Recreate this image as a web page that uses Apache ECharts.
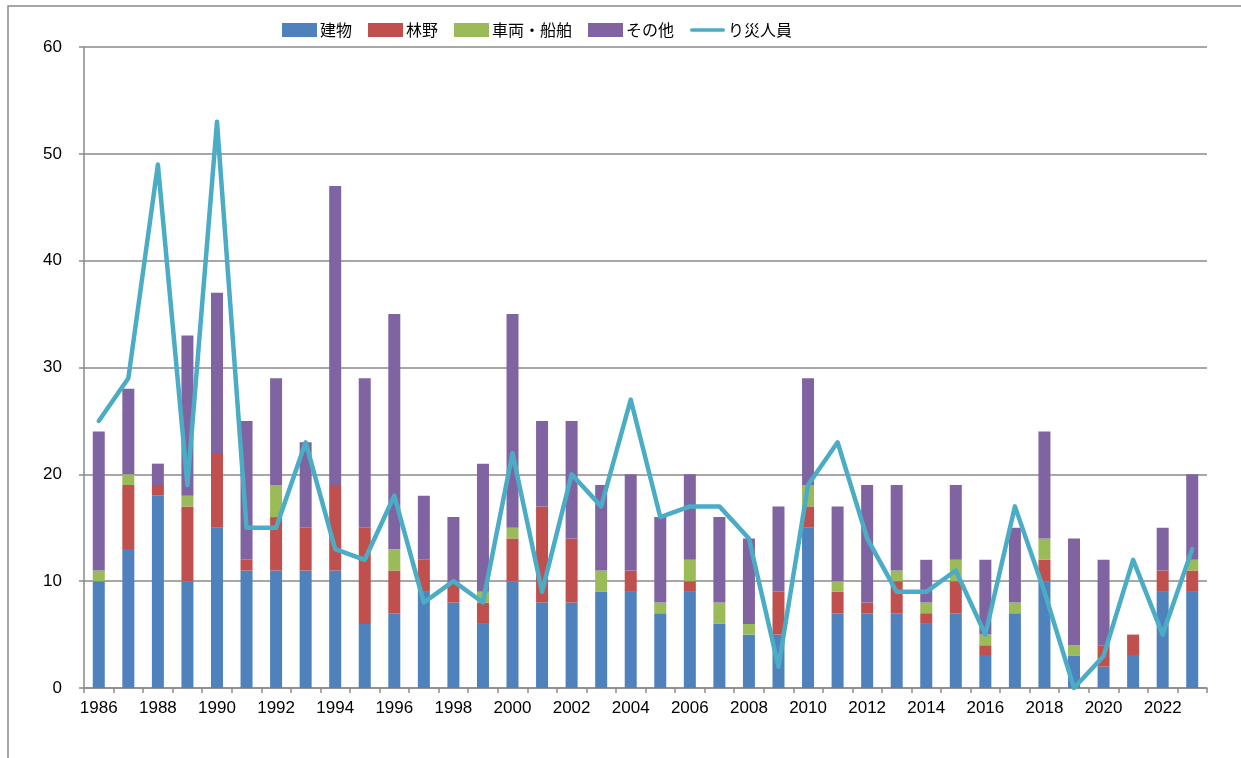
<!DOCTYPE html>
<html>
<head>
<meta charset="utf-8">
<script src="https://cdn.jsdelivr.net/npm/echarts@6/dist/echarts.min.js"></script>
<style>html,body{margin:0;padding:0;background:#fff}#c{width:1241px;height:758px}</style>
</head>
<body>
<div id="c"></div>
<script>
const years = ['1986','1987','1988','1989','1990','1991','1992','1993','1994','1995','1996','1997','1998','1999','2000','2001','2002','2003','2004','2005','2006','2007','2008','2009','2010','2011','2012','2013','2014','2015','2016','2017','2018','2019','2020','2021','2022','2023'];
const building = [10,13,18,10,15,11,11,11,11,6,7,9,8,6,10,8,8,9,9,7,9,6,5,5,15,7,7,7,6,7,3,7,10,3,2,3,9,9];
const forest   = [0,6,1,7,7,1,5,4,8,9,4,3,2,2,4,9,6,0,2,0,1,0,0,4,2,2,1,3,1,3,1,0,2,0,2,2,2,2];
const vehicle  = [1,1,0,1,0,0,3,0,0,0,2,0,0,1,1,0,0,2,0,1,2,2,1,0,2,1,0,1,1,2,1,1,2,1,0,0,0,1];
const other    = [13,8,2,15,15,13,10,8,28,14,22,6,6,12,20,8,11,8,9,8,8,8,8,8,10,7,11,8,4,7,7,7,10,10,8,0,4,8];
const victims  = [25,29,49,19,53,15,15,23,13,12,18,8,10,8,22,9,20,17,27,16,17,17,14,2,19,23,14,9,9,11,5,17,9,0,3,12,5,13];
const yTicks = [0,10,20,30,40,50,60];
const names = ['建物','林野','車両・船舶','その他','り災人員'];

const FONT = '"Liberation Sans","Noto Sans CJK JP",sans-serif';
const chart = echarts.init(document.getElementById('c'), null, {renderer:'canvas'});
function bar(name, data, color){
  return {name, type:'bar', stack:'t', data, barWidth:12, itemStyle:{color}, emphasis:{disabled:true}};
}
const lineIcon = 'path://M2,0 L36,0 A2,2 0 0 1 36,4 L2,4 A2,2 0 0 1 2,0 Z';
chart.setOption({
  animation:false,
  textStyle:{fontFamily:FONT},
  graphic:[{type:'rect', shape:{x:8,y:6,width:1400,height:900}, style:{fill:null, stroke:'#8a8a8a', lineWidth:1.5}, z:-1}],
  legend:{
    top:17, left:277, itemWidth:35, itemHeight:14, itemGap:16,
    textStyle:{fontSize:16, color:'#000', fontFamily:'"Noto Sans CJK JP",sans-serif', padding:[0,0,0,-2]},
    data:[{name:names[0],icon:'rect'},{name:names[1],icon:'rect'},{name:names[2],icon:'rect'},{name:names[3],icon:'rect'},
          {name:names[4],icon:lineIcon, itemStyle:{color:'#4BACC6'}}]
  },
  grid:{left:84, right:34, top:47, bottom:70},
  xAxis:{
    type:'category', data:years, boundaryGap:true,
    axisLine:{lineStyle:{color:'#8a8a8a', width:1.5}},
    axisTick:{show:true, length:5, interval:0, lineStyle:{color:'#8a8a8a', width:1.5}},
    axisLabel:{interval:1, fontSize:17, color:'#000', margin:12, fontFamily:FONT}
  },
  yAxis:{
    type:'value', min:0, max:60, interval:10,
    axisLine:{show:true, lineStyle:{color:'#8a8a8a', width:1.5}},
    axisTick:{show:true, length:5, lineStyle:{color:'#8a8a8a', width:1.5}},
    splitLine:{lineStyle:{color:'#8a8a8a', width:1.5}},
    axisLabel:{fontSize:17, color:'#000', margin:22, fontFamily:FONT,
      formatter:function(v){return yTicks.indexOf(v)>=0?String(v):'';}}
  },
  series:[
    bar(names[0], building, '#4F81BD'),
    bar(names[1], forest, '#C0504D'),
    bar(names[2], vehicle, '#9BBB59'),
    bar(names[3], other, '#8064A2'),
    {name:names[4], type:'line', data:victims, symbol:'none', z:5,
     lineStyle:{color:'#4BACC6', width:4.5, cap:'round', join:'round'},
     itemStyle:{color:'#4BACC6'}, emphasis:{disabled:true}}
  ]
});
</script>
</body>
</html>
